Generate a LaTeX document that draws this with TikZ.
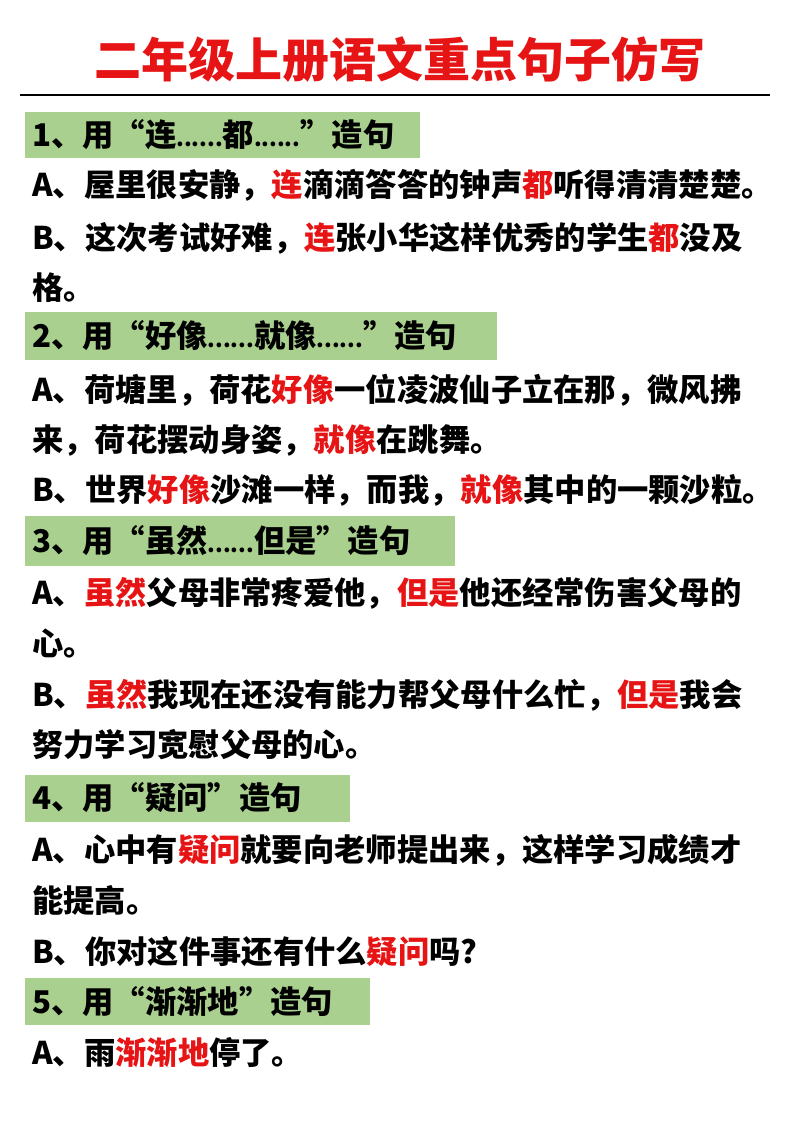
\documentclass[tikz,border=0pt]{standalone}
\usepackage{fontspec}
\setmainfont{Noto Sans CJK SC}
\definecolor{hl}{RGB}{169,208,142}
\definecolor{rd}{RGB}{230,20,20}
\newcommand{\R}[1]{\textcolor{rd}{#1}}
\newcommand{\dd}{{\fontsize{22}{26}\selectfont......}}
\begin{document}
\begin{tikzpicture}[x=1pt,y=-1pt,
  txt/.style={anchor=west,inner sep=0pt,font=\fontsize{31.3}{36}\selectfont\bfseries},
  hd/.style={fill=hl,draw=none}]
\useasboundingbox (0,0) rectangle (800,1132);
\fill[white] (0,0) rectangle (800,1132);
\node[font=\fontsize{47}{52}\selectfont\bfseries,text=rd] (title) at (400,60) {二年级上册语文重点句子仿写};
\draw[line width=1.2pt] (20,95) -- (770,95);
\fill[hl] (25,112) rectangle (420,158);
\fill[hl] (25,312) rectangle (497,360);
\fill[hl] (25,516) rectangle (455,566);
\fill[hl] (25,775) rectangle (350,822);
\fill[hl] (25,978) rectangle (370,1025);
\node[txt] (h1) at (32,135) {1、用“连\dd 都\dd”造句};
\node[txt] (a1) at (32,185) {A、屋里很安静，\R{连}滴滴答答的钟声\R{都}听得清清楚楚。};
\node[txt] (b1) at (32,238) {B、这次考试好难，\R{连}张小华这样优秀的学生\R{都}没及};
\node[txt] (b1c) at (32,288) {格。};
\node[txt] (h2) at (32,336) {2、用“好像\dd 就像\dd”造句};
\node[txt] (a2) at (32,390) {A、荷塘里，荷花\R{好像}一位凌波仙子立在那，微风拂};
\node[txt] (a2c) at (32,440) {来，荷花摆动身姿，\R{就像}在跳舞。};
\node[txt] (b2) at (32,490) {B、世界\R{好像}沙滩一样，而我，\R{就像}其中的一颗沙粒。};
\node[txt] (h3) at (32,541) {3、用“虽然\dd 但是”造句};
\node[txt] (a3) at (32,593) {A、\R{虽然}父母非常疼爱他，\R{但是}他还经常伤害父母的};
\node[txt] (a3c) at (32,643) {心。};
\node[txt] (b3) at (32,695) {B、\R{虽然}我现在还没有能力帮父母什么忙，\R{但是}我会};
\node[txt] (b3c) at (32,745) {努力学习宽慰父母的心。};
\node[txt] (h4) at (32,798) {4、用“疑问”造句};
\node[txt] (a4) at (32,850) {A、心中有\R{疑问}就要向老师提出来，这样学习成绩才};
\node[txt] (a4c) at (32,900) {能提高。};
\node[txt] (b4) at (32,952) {B、你对这件事还有什么\R{疑问}吗?};
\node[txt] (h5) at (32,1001) {5、用“渐渐地”造句};
\node[txt] (a5) at (32,1052) {A、雨\R{渐渐地}停了。};
\end{tikzpicture}
\end{document}
